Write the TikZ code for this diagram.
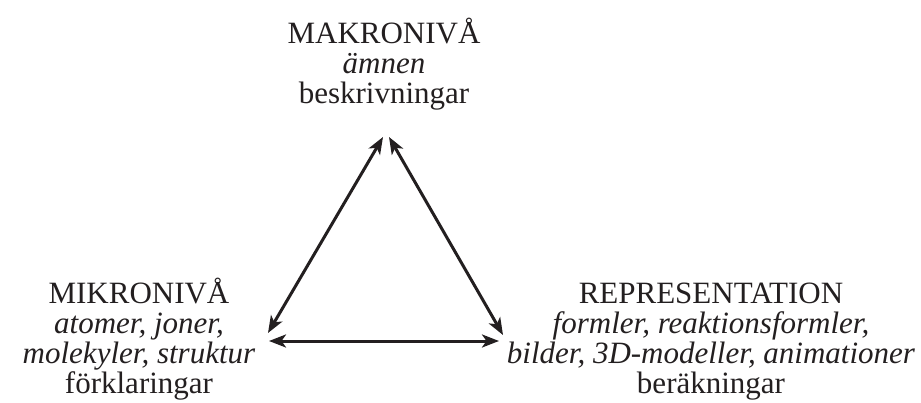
\documentclass[tikz,border=0pt]{standalone}
\usepackage{fontspec}
\setmainfont{Liberation Serif}
\usetikzlibrary{arrows.meta}
\definecolor{ink}{RGB}{35,31,32}
\tikzset{
  label/.style={align=center, inner sep=0pt, text=ink, font=\fontsize{31}{30}\selectfont, anchor=base},
  link/.style={draw=ink, line width=3pt, {Stealth[length=17pt,width=13pt,inset=4.5pt]}-{Stealth[length=17pt,width=13pt,inset=4.5pt]}}
}
\begin{document}
\begin{tikzpicture}[x=1pt,y=-1pt]
\useasboundingbox (0,0) rectangle (921,403);
\node[label] (makro) at (384,104) {MAKRONIVÅ\\\textit{ämnen}\\beskrivningar};
\node[label] (mikro) at (139,393) {MIKRONIVÅ\\\textit{atomer, joner,}\\\textit{molekyler, struktur}\\förklaringar};
\node[label] (repr) at (711,393) {REPRESENTATION\\\textit{formler, reaktionsformler,}\\\textit{bilder, 3D-modeller, animationer}\\beräkningar};
\coordinate (topL) at (383,137);
\coordinate (topR) at (389,137);
\coordinate (leftD) at (268,333);
\coordinate (leftH) at (269,341);
\coordinate (rightD) at (503,335);
\coordinate (rightH) at (499,341);
\draw[link] (topL) -- (leftD);
\draw[link] (topR) -- (rightD);
\draw[link] (leftH) -- (rightH);
\end{tikzpicture}
\end{document}
